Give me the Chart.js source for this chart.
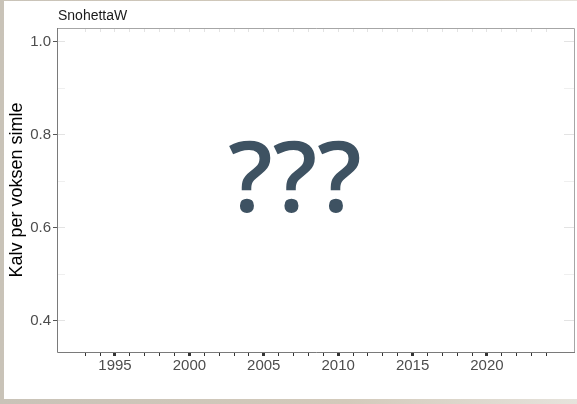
<!DOCTYPE html>
<html>
<head>
<meta charset="utf-8">
<script src="https://cdn.jsdelivr.net/npm/chart.js@4.4.1/dist/chart.umd.min.js"></script>
<style>
  html, body { margin: 0; padding: 0; }
  body { width: 577px; height: 404px; background: linear-gradient(90deg, #c9c3b8 0%, #d3cabb 60%, #e6e3dc 100%); position: relative; overflow: hidden; }
  #wrap { position: absolute; left: 4px; top: 1px; width: 573px; height: 398px; background: #fff; }
</style>
</head>
<body>
<div id="wrap"><canvas id="myChart" width="573" height="398"></canvas></div>
<script>
// panel title and axis text
const panelTitle = 'SnohettaW';
const yTitle = 'Kalv per voksen simle';
const overlayText = '???';

// x axis: one break per year, labels every 5 years
const years = [1993, 1994, 1995, 1996, 1997, 1998, 1999, 2000, 2001, 2002, 2003, 2004, 2005, 2006, 2007, 2008,
  2009, 2010, 2011, 2012, 2013, 2014, 2015, 2016, 2017, 2018, 2019, 2020, 2021, 2022, 2023, 2024];
const xLabels = [1995, 2000, 2005, 2010, 2015, 2020];

// y axis breaks (labelled) and minor grid
const yMajor = [0.4, 0.6, 0.8, 1.0];
const yBreaks = [0.4, 0.5, 0.6, 0.7, 0.8, 0.9, 1.0];

// the series is hidden in the picture: no visible values
const calfRatio = [];

const frame = {
	id: 'frame',
	beforeDatasetsDraw(chart) {
		const { ctx, chartArea: a } = chart;
		// white cover over the panel, leaving only grid stubs at the edges
		ctx.save();
		ctx.fillStyle = '#ffffff';
		ctx.fillRect(a.left + 7, a.top + 4, a.right - a.left - 17, a.bottom - a.top - 4);
		ctx.restore();
	},
	afterDraw(chart) {
		const { ctx, chartArea: a } = chart;
		ctx.save();
		// panel border
		ctx.strokeStyle = '#a6a6a6';
		ctx.lineWidth = 1;
		ctx.beginPath();
		ctx.moveTo(a.left, a.top + 0.5);
		ctx.lineTo(a.right + 0.5, a.top + 0.5);
		ctx.lineTo(a.right + 0.5, a.bottom);
		ctx.stroke();
		ctx.strokeStyle = '#7a7a7a';
		ctx.beginPath();
		ctx.moveTo(a.left - 0.5, a.top);
		ctx.lineTo(a.left - 0.5, a.bottom + 0.5);
		ctx.lineTo(a.right + 1, a.bottom + 0.5);
		ctx.stroke();
		// panel title
		ctx.fillStyle = '#1a1a1a';
		ctx.font = '14px "Liberation Sans", Arial, sans-serif';
		ctx.textAlign = 'left';
		ctx.textBaseline = 'alphabetic';
		ctx.fillText(panelTitle, a.left, 19);
		// placeholder text
		ctx.fillStyle = '#3e5262';
		ctx.font = '600 98px "Open Sans", "Noto Sans", sans-serif';
		ctx.textAlign = 'center';
		ctx.fillText(overlayText, 291, 211);
		ctx.restore();
	}
};

const ctx = document.getElementById('myChart').getContext('2d');
let myChart = new Chart(ctx, {
	type: 'line',
	data: {
		datasets: [
			{
				label: panelTitle,
				data: calfRatio,
				borderColor: '#000000',
				pointRadius: 0
			}
		]
	},
	plugins: [frame],
	options: {
		responsive: false,
		animation: false,
		layout: { padding: { top: 27, right: 3, left: 0, bottom: 0 } },
		plugins: { legend: { display: false }, tooltip: { enabled: false } },
		scales: {
			x: {
				type: 'linear',
				min: 1991.17,
				max: 2025.85,
				afterBuildTicks: s => { s.ticks = years.map(v => ({ value: v })); },
				afterFit: s => { s.height = 47; },
				border: { display: false },
				grid: {
					color: '#e3e3e3',
					lineWidth: 1,
					drawTicks: true,
					tickLength: 4,
					tickColor: '#333333',
					tickWidth: c => (xLabels.includes(c.tick.value) ? 3 : 1)
				},
				ticks: {
					autoSkip: false,
					maxRotation: 0,
					padding: 1,
					color: '#4d4d4d',
					font: { size: 15, family: '"Liberation Sans", Arial, sans-serif' },
					callback: v => (xLabels.includes(v) ? String(v) : '')
				}
			},
			y: {
				min: 0.333,
				max: 1.03,
				afterBuildTicks: s => { s.ticks = yBreaks.map(v => ({ value: v })); },
				afterFit: s => { s.width = 54; },
				border: { display: false },
				title: {
					display: true,
					text: yTitle,
					color: '#000000',
					padding: { top: 2, bottom: 0 },
					font: { size: 18, family: '"Liberation Sans", Arial, sans-serif' }
				},
				grid: {
					color: c => (yMajor.includes(c.tick.value) ? '#e3e3e3' : '#efefef'),
					lineWidth: 1,
					tickLength: 5,
					tickColor: c => (yMajor.includes(c.tick.value) ? '#555555' : 'rgba(0,0,0,0)')
				},
				ticks: {
					padding: 2,
					color: '#4d4d4d',
					font: { size: 15, family: '"Liberation Sans", Arial, sans-serif' },
					callback: v => (yMajor.includes(Math.round(v * 10) / 10) ? Number(v).toFixed(1) : '')
				}
			}
		}
	}
});
</script>
</body>
</html>
